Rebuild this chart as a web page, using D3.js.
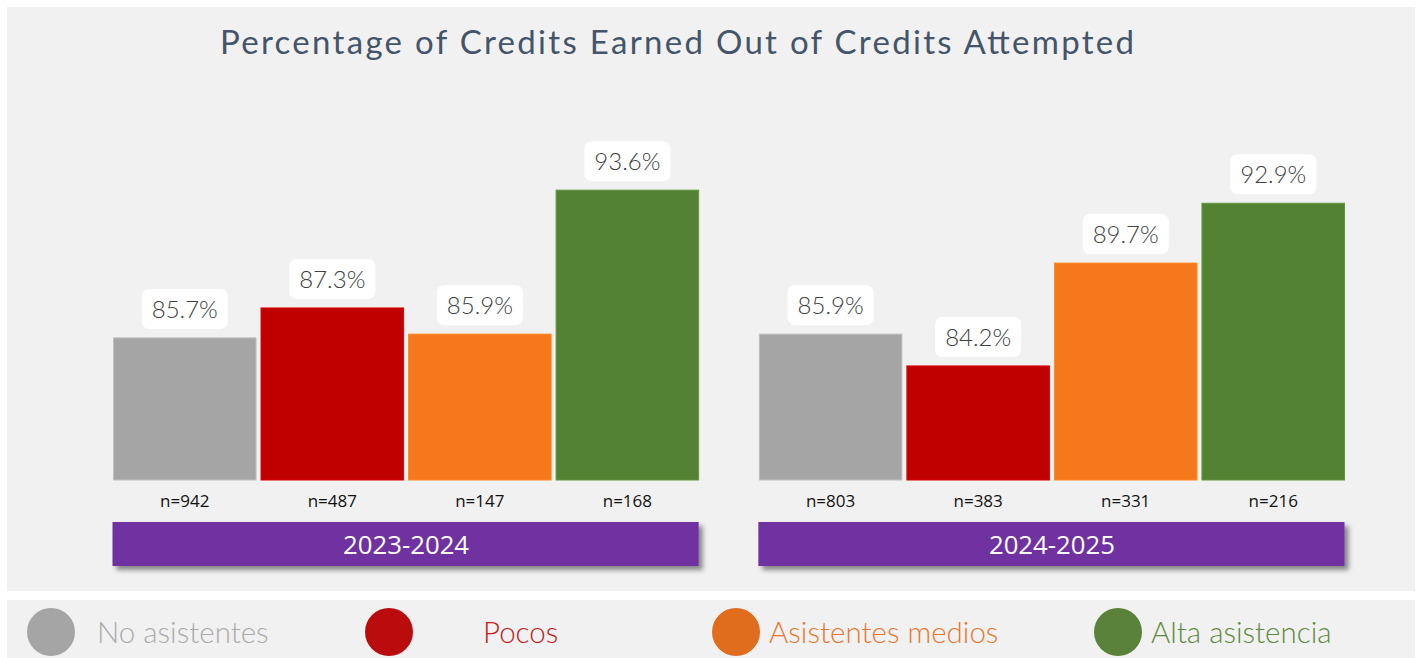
<!DOCTYPE html>
<html>
<head>
<meta charset="utf-8">
<script src="https://cdnjs.cloudflare.com/ajax/libs/d3/7.8.5/d3.min.js"></script>
<style>
    body { margin: 0; background: #ffffff; }
    svg { display: block; }
</style>
</head>
<body>
<svg id="chart" width="1421" height="658"></svg>
<script>
    const years = ['2023-2024', '2024-2025'];
    const categories = ['No asistentes', 'Pocos', 'Asistentes medios', 'Alta asistencia'];
    const values2023 = [85.7, 87.3, 85.9, 93.6];
    const values2024 = [85.9, 84.2, 89.7, 92.9];
    const counts2023 = [942, 487, 147, 168];
    const counts2024 = [803, 383, 331, 216];

    const barColors = ['#A5A5A5', '#C00000', '#F7771B', '#548235'];
    const legendColors = ['#A5A5A5', '#BA0C0C', '#E06C1E', '#5A823A'];
    const legendText = ['#ABABAB', '#C01A1A', '#E8772E', '#5E8A3E'];

    const rows = years.map((y, i) => ({
        year: y,
        values: i === 0 ? values2023 : values2024,
        counts: i === 0 ? counts2023 : counts2024
    }));

    const svg = d3.select('#chart');

    const defs = svg.append('defs');
    const shadow = defs.append('filter').attr('id', 'shadow')
        .attr('x', '-5%').attr('y', '-20%').attr('width', '115%').attr('height', '160%');
    shadow.append('feDropShadow')
        .attr('dx', 4).attr('dy', 4).attr('stdDeviation', 2.5)
        .attr('flood-color', '#000').attr('flood-opacity', 0.45);

    // panels
    svg.append('rect').attr('x', 7).attr('y', 7).attr('width', 1408).attr('height', 584).attr('fill', '#F1F1F1');
    svg.append('rect').attr('x', 7).attr('y', 600).attr('width', 1408).attr('height', 58).attr('fill', '#F1F1F1');

    svg.append('text')
        .attr('x', 677).attr('y', 54)
        .attr('text-anchor', 'middle')
        .attr('font-family', 'Lato, sans-serif')
        .attr('font-size', 33)
        .attr('textLength', 914)
        .attr('lengthAdjust', 'spacing')
        .attr('fill', '#44546A')
        .text('Percentage of Credits Earned Out of Credits Attempted');

    const x0 = d3.scaleBand().domain(years).range([113.5, 1344.5]).paddingInner(0.094);
    const x1 = d3.scaleBand().domain(categories).range([0, x0.bandwidth()]).paddingInner(0.034);
    const y = d3.scaleLinear().domain([78.1, 100]).range([480, 70.5]);

    const groups = svg.selectAll('g.year').data(rows).join('g')
        .attr('class', 'year')
        .attr('transform', d => `translate(${x0(d.year)},0)`);

    const items = d => categories.map((c, i) => ({ cat: c, i, v: d.values[i], n: d.counts[i] }));

    groups.selectAll('rect.bar').data(items).join('rect')
        .attr('class', 'bar')
        .attr('x', d => x1(d.cat))
        .attr('width', x1.bandwidth())
        .attr('y', d => y(d.v))
        .attr('height', d => y.range()[0] - y(d.v))
        .attr('fill', d => barColors[d.i])
        .attr('stroke', d => d3.color(barColors[d.i]).brighter(0.4))
        .attr('stroke-width', 1);

    const lab = groups.selectAll('g.lab').data(items).join('g')
        .attr('class', 'lab')
        .attr('transform', d => `translate(${x1(d.cat) + x1.bandwidth() / 2},${y(d.v) - 9})`);
    lab.append('rect')
        .attr('x', -43).attr('y', -40).attr('width', 86).attr('height', 40)
        .attr('rx', 7).attr('fill', '#ffffff');
    lab.append('text')
        .attr('y', -11)
        .attr('text-anchor', 'middle')
        .attr('font-family', 'Lato, sans-serif')
        .attr('font-weight', 300)
        .attr('font-size', 24)
        .attr('fill', '#404040')
        .text(d => d3.format('.1f')(d.v) + '%');

    groups.selectAll('text.n').data(items).join('text')
        .attr('class', 'n')
        .attr('x', d => x1(d.cat) + x1.bandwidth() / 2)
        .attr('y', 507)
        .attr('text-anchor', 'middle')
        .attr('font-family', '"Open Sans", sans-serif')
        .attr('font-size', 17)
        .attr('fill', '#111')
        .text(d => 'n=' + d.n);

    groups.append('rect')
        .attr('x', -1).attr('y', 522)
        .attr('width', x0.bandwidth() + 1).attr('height', 44)
        .attr('fill', '#7030A0')
        .attr('filter', 'url(#shadow)');
    groups.append('text')
        .attr('x', x0.bandwidth() / 2).attr('y', 554)
        .attr('text-anchor', 'middle')
        .attr('font-family', '"Open Sans", sans-serif')
        .attr('font-size', 25)
        .attr('textLength', 126)
        .attr('lengthAdjust', 'spacingAndGlyphs')
        .attr('fill', '#ffffff')
        .text(d => d.year);

    // legend
    const legendX = [51, 389, 736, 1118];
    const legendTextX = [97, 483, 769, 1151];
    const leg = svg.selectAll('g.leg').data(categories).join('g').attr('class', 'leg');
    leg.append('ellipse')
        .attr('cx', (d, i) => legendX[i]).attr('cy', 632)
        .attr('rx', 24).attr('ry', 24)
        .attr('fill', (d, i) => legendColors[i]);
    leg.append('text')
        .attr('x', (d, i) => legendTextX[i]).attr('y', 643)
        .attr('font-family', 'Lato, sans-serif')
        .attr('font-weight', 300)
        .attr('font-size', 29.5)
        .attr('fill', (d, i) => legendText[i])
        .text(d => d);
</script>
</body>
</html>
